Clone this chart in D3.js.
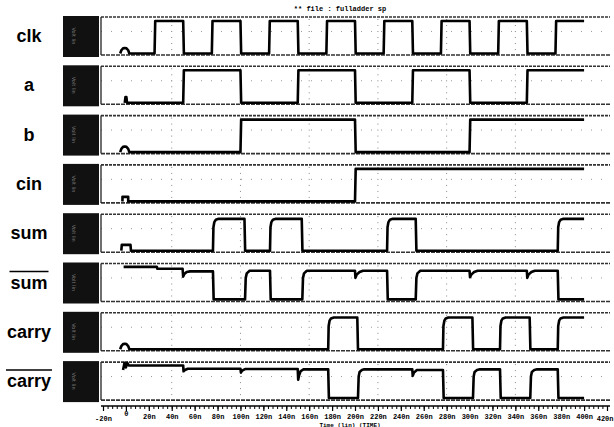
<!DOCTYPE html>
<html>
<head>
<meta charset="utf-8">
<script src="https://cdn.jsdelivr.net/npm/d3@7"></script>
<style>
  body { margin: 0; background: #fff; }
  svg { display: block; }
  .label { font-family: "Liberation Sans", Arial, sans-serif; font-weight: bold; font-size: 18px; }
  .mono { font-family: "Liberation Mono", "Courier New", monospace; font-weight: bold; }
</style>
</head>
<body>
<div id="chart"></div>
<script>
// signal names, overline = inverted signal
const names = ["clk", "a", "b", "cin", "sum", "sum", "carry", "carry"];
const overline = [false, false, false, false, false, true, false, true];

// tick values / labels of the time axis (ns)
const majorTicks = [-20, 0, 20, 40, 60, 80, 100, 120, 140, 160, 180, 200, 220, 240, 260, 280, 300, 320, 340, 360, 380, 400, 420];
const tickLabels = ["-20n", "0", "20n", "40n", "60n", "80n", "100n", "120n", "140n", "160n", "180n", "200n", "220n", "240n", "260n", "280n", "300n", "320n", "340n", "360n", "380n", "400n", "420n"];
const gridTimes = [40, 100, 160, 220, 280, 340];

// waveforms, [time ns, volts]
const clk = [[-5,0],[-4,0.5],[-2.5,0.8],[-1,0.85],[0.5,0.8],[2,0.5],[3,0],[25,0],[25.6,5],[50,5],[50.6,0],[75,0],[75.6,5],[100,5],[100.6,0],
  [125,0],[125.6,5],[150,5],[150.6,0],[175,0],[175.6,5],[200,5],[200.6,0],[225,0],[225.6,5],[250,5],[250.6,0],
  [275,0],[275.6,5],[300,5],[300.6,0],[325,0],[325.6,5],[350,5],[350.6,0],[375,0],[375.6,5],[400,5]];
const a = [[-1,0],[-0.4,0.9],[0.4,0.9],[1,0],[50,0],[50.6,5],[100,5],[100.6,0],[150,0],[150.6,5],[200,5],[200.6,0],
  [250,0],[250.6,5],[300,5],[300.6,0],[350,0],[350.6,5],[400,5]];
const b = [[-5,0],[-4,0.5],[-2.5,0.8],[-1,0.85],[0.5,0.8],[2,0.5],[3,0],[100,0],[100.6,5],[200,5],[200.6,0],[300,0],[300.6,5],[400,5]];
const cin = [[-3,0],[-3,0.7],[2,0.7],[2,0],[200,0],[200.6,5],[400,5]];
const sum = [[-4,0],[-3.6,0.9],[4,0.9],[4.4,0],
  [76,0],[76.4,3.6],[77.2,4.4],[78.5,4.75],[81,4.9],[103.5,4.9],[104.1,0],
  [125.8,0],[126.2,3.6],[127,4.4],[128.3,4.75],[131,4.9],[153.5,4.9],[154.1,0],
  [228,0],[228.4,3.6],[229.2,4.4],[230.5,4.75],[233,4.9],[253,4.9],[253.6,0],
  [377,0],[377.4,3.6],[378.2,4.4],[379.5,4.75],[382,4.9],[400,4.9]];
const sumBar = [[-2,5.1],[27,5.1],[27.5,4.8],[49.5,4.8],[50,3.6],[51,4.0],[53,4.3],[56,4.4],[76,4.4],[76.6,0.1],
  [104,0.1],[104.6,3.4],[105.5,4.1],[108,4.5],[125.8,4.5],[126.4,0.1],
  [154,0.1],[154.6,3.4],[155.5,4.1],[158,4.5],[200,4.5],[200.4,3.4],[201.5,3.9],[204,4.3],[207,4.5],[228,4.5],[228.6,0.1],
  [253,0.1],[253.6,3.4],[254.5,4.1],[257,4.5],[300,4.5],[300.4,3.5],[301.5,3.9],[304,4.3],[307,4.5],
  [350,4.5],[350.4,3.4],[351.5,3.9],[354,4.3],[357,4.5],[377,4.5],[377.6,0.1],[400,0.1]];
const carry = [[-5,0],[-4,0.5],[-2.5,0.8],[-1,0.85],[0.5,0.8],[2,0.5],[3,0],
  [176.6,0],[177,3.6],[177.8,4.4],[179,4.75],[181.5,4.9],[202,4.9],[202.6,0],
  [276.8,0],[277.2,3.6],[278,4.4],[279.2,4.75],[281.5,4.9],[302.5,4.9],[303.1,0],
  [326.6,0],[327,3.6],[327.8,4.4],[329,4.75],[331.5,4.9],[352.5,4.9],[353.1,0],
  [377,0],[377.4,3.6],[378.2,4.4],[379.4,4.75],[382,4.9],[400,4.9]];
const carryBar = [[-2.5,4.4],[-1.2,5.5],[0,4.8],[1.2,5.5],[2.5,5.1],[50,5.1],[50.3,4.2],[51.5,4.4],[54,4.6],
  [100,4.6],[100.4,4.0],[101.5,4.3],[104,4.55],[150,4.55],[150.4,2.9],[151.2,3.6],[152.5,4.2],[155,4.5],[176.6,4.5],[177.2,0.1],
  [202.6,0.1],[203.2,3.4],[204,4.1],[206,4.4],[208,4.5],[250,4.5],[250.4,3.5],[251.5,4.0],[254,4.4],[276.8,4.4],[277.4,0.1],
  [303,0.1],[303.6,3.4],[304.4,4.1],[306.5,4.4],[309,4.5],[326.6,4.5],[327.2,0.1],
  [353,0.1],[353.6,3.4],[354.4,4.1],[356.5,4.4],[359,4.5],[377,4.5],[377.6,0.1],[400,0.1]];

const waves = [clk, a, b, cin, sum, sumBar, carry, carryBar];

const width = 614, height = 427;
const panelLeft = 101, panelRight = 610, rowH = 38;
const rowTop = i => 17 + i * 49.3;

const svg = d3.select("#chart").append("svg")
    .attr("width", width)
    .attr("height", height);

const x = d3.scaleLinear().domain([-20, 420]).range([103, 607]);

// title
svg.append("text")
    .attr("class", "mono")
    .attr("x", 340).attr("y", 11)
    .attr("text-anchor", "middle")
    .attr("font-size", 7)
    .text("** file : fulladder sp");

names.forEach((name, i) => {
    const top = rowTop(i), bottom = top + rowH;
    const y = d3.scaleLinear().domain([0, 5]).range([bottom - 1.5, top + 4]);
    const g = svg.append("g");

    // black y-axis box
    g.append("rect")
        .attr("x", 63).attr("y", top - 1)
        .attr("width", 36).attr("height", rowH + 3)
        .attr("fill", "#111");
    g.append("text")
        .attr("transform", `translate(72,${top + rowH / 2}) rotate(90)`)
        .attr("text-anchor", "middle")
        .attr("font-size", 5)
        .attr("font-family", "DejaVu Sans")
        .attr("fill", "#777")
        .text("Volt lin");

    // grid
    g.selectAll(".vgrid")
        .data(gridTimes)
        .enter().append("line")
        .attr("x1", d => x(d)).attr("x2", d => x(d))
        .attr("y1", top + 2).attr("y2", bottom - 2)
        .attr("stroke", "#888").attr("stroke-width", 1)
        .attr("stroke-dasharray", "1,5");
    g.append("line")
        .attr("x1", panelLeft).attr("x2", panelRight)
        .attr("y1", top + rowH * 0.38).attr("y2", top + rowH * 0.38)
        .attr("stroke", "#999").attr("stroke-width", 1)
        .attr("stroke-dasharray", "1,9");

    // panel frame
    g.append("line")
        .attr("x1", panelLeft).attr("x2", panelRight)
        .attr("y1", top).attr("y2", top)
        .attr("stroke", "#333").attr("stroke-width", 1.6)
        .attr("stroke-dasharray", "3,1");
    g.append("line")
        .attr("x1", panelLeft).attr("x2", panelRight)
        .attr("y1", bottom).attr("y2", bottom)
        .attr("stroke", "#333").attr("stroke-width", 1.6)
        .attr("stroke-dasharray", "4,1");
    g.append("line")
        .attr("x1", panelLeft).attr("x2", panelLeft)
        .attr("y1", top).attr("y2", bottom)
        .attr("stroke", "#222").attr("stroke-width", 1.3);

    // waveform
    g.append("path")
        .datum(waves[i])
        .attr("d", d3.line().x(d => x(d[0])).y(d => y(d[1])))
        .attr("fill", "none")
        .attr("stroke", "#000")
        .attr("stroke-width", 2.6)
        .attr("stroke-linejoin", "round");

    // signal label
    const lbl = svg.append("text")
        .attr("class", "label")
        .attr("x", 29).attr("y", top + rowH / 2 + 6)
        .attr("text-anchor", "middle")
        .text(name);
    if (overline[i]) {
        const bb = lbl.node().getBBox();
        svg.append("line")
            .attr("x1", bb.x - 1).attr("x2", bb.x + bb.width + 1)
            .attr("y1", top + rowH / 2 - 11).attr("y2", top + rowH / 2 - 11)
            .attr("stroke", "#000").attr("stroke-width", 1.5);
    }
});

// time axis
const axisY = 406;
svg.append("line")
    .attr("x1", panelLeft).attr("x2", panelRight)
    .attr("y1", axisY).attr("y2", axisY)
    .attr("stroke", "#000").attr("stroke-width", 1.5);

const minorAxis = d3.axisBottom(x)
    .tickValues(d3.range(-20, 421, 4))
    .tickSize(3)
    .tickSizeOuter(0)
    .tickFormat("");
svg.append("g")
    .attr("transform", `translate(0,${axisY})`)
    .call(minorAxis)
    .call(g => g.select(".domain").remove());

const majorAxis = d3.axisBottom(x)
    .tickValues(majorTicks)
    .tickSize(5)
    .tickSizeOuter(0)
    .tickFormat((d, i) => tickLabels[i]);
const axisG = svg.append("g")
    .attr("transform", `translate(0,${axisY})`)
    .call(majorAxis)
    .call(g => g.select(".domain").remove());
axisG.selectAll("line").attr("stroke", "#000").attr("stroke-width", 1.2);
axisG.selectAll("text")
    .attr("class", "mono")
    .attr("font-size", 7)
    .attr("fill", "#000")
    .attr("y", (d) => d === -20 || d === 420 ? 10 : (d === 0 ? 5 : 8));
// last label pushed inside the page edge
axisG.selectAll("text").filter(d => d === 420)
    .attr("text-anchor", "end")
    .attr("dx", 6);

svg.append("text")
    .attr("class", "mono")
    .attr("x", 350).attr("y", 426.5)
    .attr("text-anchor", "middle")
    .attr("font-size", 6)
    .text("Time (lin) (TIME)");
</script>
</body>
</html>
